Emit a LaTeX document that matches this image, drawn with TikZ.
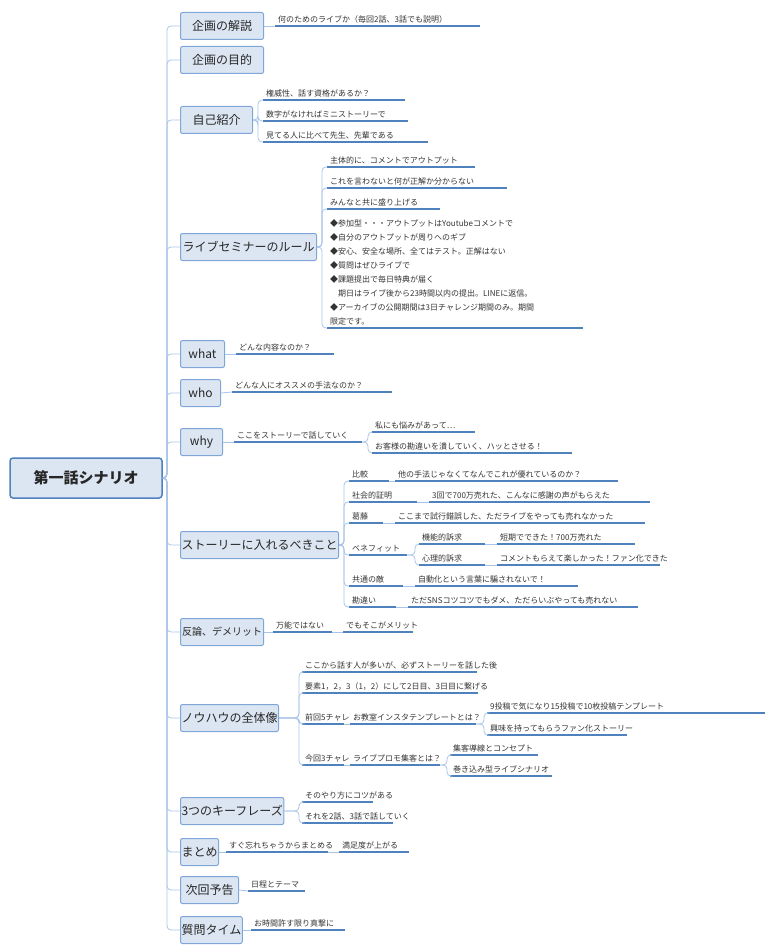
\documentclass[tikz,border=0pt]{standalone}
\usepackage{fontspec}
\setmainfont{Noto Sans CJK JP}
\definecolor{bxfill}{HTML}{DCE6F2}
\definecolor{bxdraw}{HTML}{7EA6D8}
\definecolor{ulc}{HTML}{4F81BD}
\definecolor{cnc}{HTML}{A9C4E8}
\definecolor{txc}{HTML}{333333}
\tikzset{
  mbox/.style={draw=bxdraw,fill=bxfill,rounded corners=2pt,line width=1pt,font=\fontsize{12}{14}\selectfont,text=black!85,anchor=west,minimum height=27pt,inner xsep=1pt},
  rootbox/.style={draw=ulc,fill=bxfill,rounded corners=3pt,line width=1.5pt,font=\fontsize{15}{17}\selectfont\bfseries,text=black!85,minimum width=152pt,minimum height=40pt},
  leaf/.style={anchor=south west,inner xsep=3pt,inner ysep=2.5pt,align=left,font=\fontsize{8}{14}\selectfont,text=txc,
    append after command={(\tikzlastnode.south west) edge[ul] (\tikzlastnode.south east)}},
  ul/.style={draw=ulc,line width=1.1pt},
  conn/.style={draw=cnc,line width=0.8pt,rounded corners=4pt},
}
\newcommand\lf[5]{\node[leaf,text width=#4pt-6pt] (#1) at (#2,#3) {#5};}
\begin{document}
\begin{tikzpicture}[x=1pt,y=-1pt]
\useasboundingbox (0,0) rectangle (773,952);
\node[rootbox] (r) at (86,478) {第一話シナリオ};
\node[mbox,minimum width=83pt] (m1) at (180,26) {企画の解説};
\node[mbox,minimum width=83pt] (m2) at (180,60) {企画の目的};
\node[mbox,minimum width=72pt] (m3) at (180,120) {自己紹介};
\node[mbox,minimum width=136pt] (m4) at (180,247) {ライブセミナーのルール};
\node[mbox,minimum width=44pt] (m5) at (180,354) {what};
\node[mbox,minimum width=40pt] (m6) at (180,393) {who};
\node[mbox,minimum width=42pt] (m7) at (180,442) {why};
\node[mbox,minimum width=158pt] (m8) at (180,545) {ストーリーに入れるべきこと};
\node[mbox,minimum width=83pt,font=\fontsize{10}{12}\selectfont] (m9) at (180,632) {反論、デメリット};
\node[mbox,minimum width=92pt] (m10) at (180,718) {ノウハウの全体像};
\node[mbox,minimum width=92pt] (m11) at (180,811) {3つのキーフレーズ};
\node[mbox,minimum width=36pt] (m12) at (180,852) {まとめ};
\node[mbox,minimum width=58pt] (m13) at (180,890) {次回予告};
\node[mbox,minimum width=60pt] (m14) at (180,930) {質問タイム};
\foreach \m in {m1,m2,m3,m4,m5,m6,m7,m8,m9,m10,m11,m12,m13,m14}
  \draw[conn] (r.east) -- (167,478) |- (\m.west);
% leaves
\lf{a1}{275}{26}{205}{何のためのライブか（毎回2話、3話でも説明）}
\draw[conn] (m1.east) -- (a1.south west);
\lf{c1}{263}{100}{142}{権威性、話す資格があるか？}
\lf{c2}{263}{121}{145}{数字がなければミニストーリーで}
\lf{c3}{263}{142}{165}{見てる人に比べて先生、先輩である}
\foreach \c in {c1,c2,c3} \draw[conn] (m3.east) -- (258,120) |- (\c.south west);
\lf{d1}{327}{167}{148}{主体的に、コメントでアウトプット}
\lf{d2}{327}{188}{180}{これを言わないと何が正解か分からない}
\lf{d3}{327}{209}{113}{みんなと共に盛り上げる}
\lf{d4}{327}{328}{256}{◆参加型・・・アウトプットはYoutubeコメントで\\◆自分のアウトプットが周りへのギブ\\◆安心、安全な場所、全てはテスト。正解はない\\◆質問はぜひライブで\\◆課題提出で毎日特典が届く\\　期日はライブ後から23時間以内の提出。LINEに返信。\\◆アーカイブの公開期間は3日チャレンジ期間のみ。期間\\限定です。}
\foreach \c in {d1,d2,d3,d4} \draw[conn] (m4.east) -- (322,247) |- (\c.south west);
\lf{e1}{236}{354}{98}{どんな内容なのか？}
\draw[conn] (m5.east) -- (e1.south west);
\lf{f1}{232}{392}{160}{どんな人にオススメの手法なのか？}
\draw[conn] (m6.east) -- (f1.south west);
\lf{g1}{234}{442}{128}{ここをストーリーで話していく}
\draw[conn] (m7.east) -- (g1.south west);
\lf{g2}{372}{432}{103}{私にも悩みがあって…}
\lf{g3}{372}{453}{200}{お客様の勘違いを潰していく、ハッとさせる！}
\foreach \c in {g2,g3} \draw[conn] (g1.south east) -- (368,442) |- (\c.south west);
% story
\lf{h1}{349}{481}{40}{比較}
\lf{h1b}{395}{481}{223}{他の手法じゃなくてなんでこれが優れているのか？}
\lf{h2}{349}{502}{68}{社会的証明}
\lf{h2b}{429}{502}{221}{3回で700万売れた、こんなに感謝の声がもらえた}
\lf{h3}{349}{523}{34}{葛藤}
\lf{h3b}{395}{523}{250}{ここまで試行錯誤した、ただライブをやっても売れなかった}
\lf{h4}{349}{555}{58}{ベネフィット}
\lf{h5}{349}{586}{54}{共通の敵}
\lf{h5b}{415}{586}{163}{自動化という言葉に騙されないで！}
\lf{h6}{349}{607}{47}{勘違い}
\lf{h6b}{408}{607}{230}{ただSNSコツコツでもダメ、ただらいぶやっても売れない}
\foreach \c in {h1,h2,h3,h4,h5,h6} \draw[conn] (m8.east) -- (344,545) |- (\c.south west);
\foreach \a/\b in {h1/h1b,h2/h2b,h3/h3b,h5/h5b,h6/h6b} \draw[conn] (\a.south east) -- (\b.south west);
\lf{i1}{419}{544}{66}{機能的訴求}
\lf{i1b}{497}{544}{138}{短期でできた！700万売れた}
\lf{i2}{419}{565}{66}{心理的訴求}
\lf{i2b}{497}{565}{163}{コメントもらえて楽しかった！ファン化できた}
\foreach \c in {i1,i2} \draw[conn] (h4.south east) -- (415,555) |- (\c.south west);
\foreach \a/\b in {i1/i1b,i2/i2b} \draw[conn] (\a.south east) -- (\b.south west);
\lf{j1}{273}{632}{59}{万能ではない}
\lf{j2}{343}{632}{70}{でもそこがメリット}
\draw[conn] (m9.east) -- (j1.south west);
\draw[conn] (j1.south east) -- (j2.south west);
% know-how
\lf{k1}{302}{672}{175}{ここから話す人が多いが、必ずストーリーを話した後}
\lf{k2}{302}{693}{176}{要素1，2，3（1，2）にして2日目、3日目に繋げる}
\lf{k3}{302}{724}{42}{前回5チャレ}
\lf{k3b}{350}{724}{126}{お教室インスタテンプレートとは？}
\lf{k4}{302}{765}{42}{今回3チャレ}
\lf{k4b}{350}{765}{90}{ライブプロモ集客とは？}
\foreach \c in {k1,k2,k3,k4} \draw[conn] (m10.east) -- (299,718) |- (\c.south west);
\foreach \a/\b in {k3/k3b,k4/k4b} \draw[conn] (\a.south east) -- (\b.south west);
\lf{l1}{487}{713}{278}{9投稿で気になり15投稿で10枚投稿テンプレート}
\lf{l2}{487}{735}{140}{興味を持ってもらうファン化ストーリー}
\foreach \c in {l1,l2} \draw[conn] (k3b.south east) -- (484,724) |- (\c.south west);
\lf{n1}{450}{755}{88}{集客導線とコンセプト}
\lf{n2}{450}{776}{102}{巻き込み型ライブシナリオ}
\foreach \c in {n1,n2} \draw[conn] (k4b.south east) -- (447,765) |- (\c.south west);
\lf{o1}{302}{802}{71}{そのやり方にコツがある}
\lf{o2}{302}{823}{91}{それを2話、3話で話していく}
\foreach \c in {o1,o2} \draw[conn] (m11.east) -- (299,811) |- (\c.south west);
\lf{p1}{226}{852}{102}{すぐ忘れちゃうからまとめる}
\lf{p2}{339}{852}{70}{満足度が上がる}
\draw[conn] (m12.east) -- (p1.south west);
\draw[conn] (p1.south east) -- (p2.south west);
\lf{q1}{248}{891}{57}{日程とテーマ}
\draw[conn] (m13.east) -- (q1.south west);
\lf{s1}{251}{930}{94}{お時間許す限り真撃に}
\draw[conn] (m14.east) -- (s1.south west);
\end{tikzpicture}
\end{document}
